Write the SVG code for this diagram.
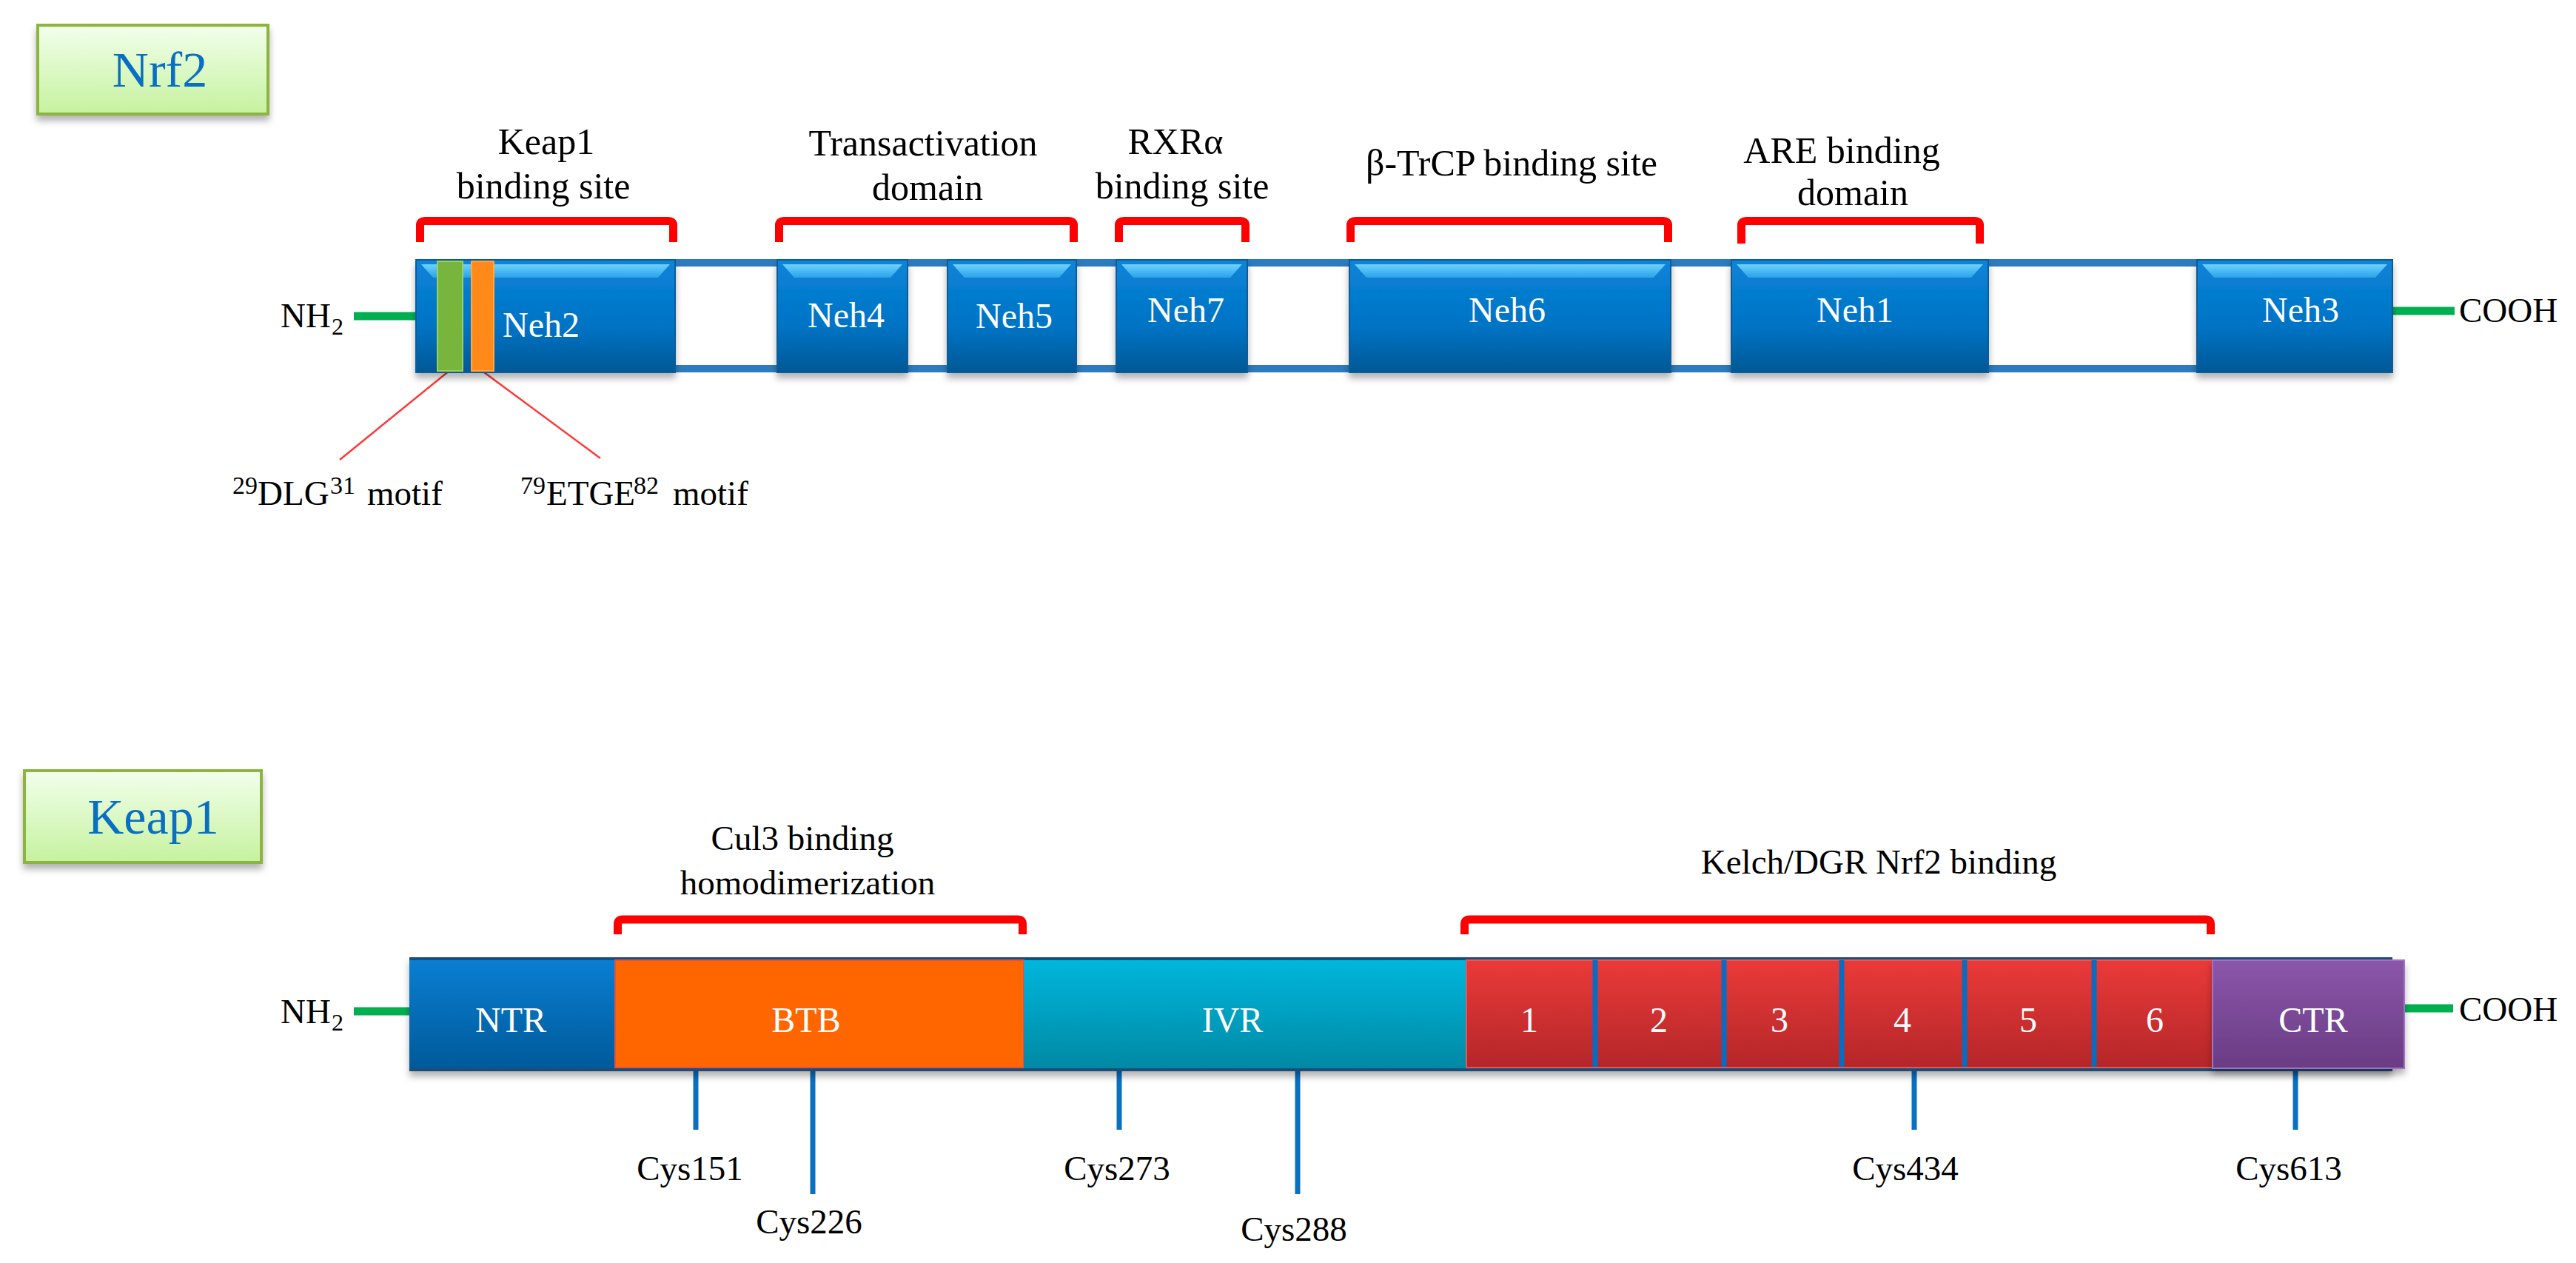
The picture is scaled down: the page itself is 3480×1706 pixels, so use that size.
<svg xmlns="http://www.w3.org/2000/svg" width="3480" height="1706" viewBox="0 0 3480 1706">
<defs>
<style>
text{font-family:"Liberation Serif","Times New Roman",serif;}
.hdr{font-size:68px;fill:#0A6FC2;text-anchor:middle;}
.lbl{font-size:50px;fill:#000;text-anchor:middle;}
.klbl{font-size:47px;fill:#000;text-anchor:middle;}
.dom{font-size:48px;fill:#fff;}
.domc{font-size:48px;fill:#fff;text-anchor:middle;}
.term{font-size:47px;fill:#000;}
.sub{font-size:32px;fill:#000;}
.cys{font-size:47px;fill:#000;text-anchor:middle;}
.sup{font-size:34px;fill:#000;}
.bracket{fill:none;stroke:#FF0000;stroke-width:11;stroke-linejoin:round;}
.term-line{stroke:#00B050;stroke-width:11;}
.cysline{stroke:#0A70C0;stroke-width:7;}
.motif{stroke:#FF3838;stroke-width:2.5;}
.neh{fill:url(#gNeh);stroke:#0D5B9A;stroke-width:2;}
.bevel{fill:url(#gBevel);}
.divider{stroke:#0A6CC0;stroke-width:7;}
</style>
<linearGradient id="gHdr" x1="0" y1="0" x2="0" y2="1"><stop offset="0" stop-color="#F2FFEC"/><stop offset="1" stop-color="#C6F29E"/></linearGradient>
<linearGradient id="gNeh" x1="0" y1="0" x2="0" y2="1"><stop offset="0" stop-color="#0B84D8"/><stop offset="0.6" stop-color="#0073C4"/><stop offset="1" stop-color="#005895"/></linearGradient>
<linearGradient id="gBevel" x1="0" y1="0" x2="0" y2="1"><stop offset="0" stop-color="#6ED2FA"/><stop offset="1" stop-color="#2AA2EA"/></linearGradient>
<linearGradient id="gNTR" x1="0" y1="0" x2="0" y2="1"><stop offset="0" stop-color="#0A7ED2"/><stop offset="1" stop-color="#005A9A"/></linearGradient>
<linearGradient id="gIVR" x1="0" y1="0" x2="0" y2="1"><stop offset="0" stop-color="#00B6DC"/><stop offset="1" stop-color="#0089A4"/></linearGradient>
<linearGradient id="gKelch" x1="0" y1="0" x2="0" y2="1"><stop offset="0" stop-color="#EA3A39"/><stop offset="1" stop-color="#B42629"/></linearGradient>
<linearGradient id="gCTR" x1="0" y1="0" x2="0" y2="1"><stop offset="0" stop-color="#8C56AA"/><stop offset="1" stop-color="#693C84"/></linearGradient>
<filter id="shadow" x="-10%" y="-20%" width="120%" height="150%"><feDropShadow dx="0" dy="7" stdDeviation="5" flood-color="#000" flood-opacity="0.3"/></filter>
</defs>
<rect width="3480" height="1706" fill="#fff"/>

<!-- Headers -->
<g id="hdr-nrf2">
<rect x="51" y="34" width="311" height="120" fill="url(#gHdr)" stroke="#8DB43F" stroke-width="4" filter="url(#shadow)"/>
<text class="hdr" x="216" y="117">Nrf2</text>
</g>
<g id="hdr-keap1">
<rect x="33" y="1041" width="320" height="124" fill="url(#gHdr)" stroke="#8DB43F" stroke-width="4" filter="url(#shadow)"/>
<text class="hdr" x="207" y="1126">Keap1</text>
</g>

<!-- Nrf2 protein -->
<g id="nrf2-backbone">
<rect x="567" y="355" width="2661" height="143" fill="none" stroke="#2C7BBF" stroke-width="10"/>
</g>
<g id="connectors">
<line class="term-line" x1="478" y1="427" x2="563" y2="427"/>
<line class="term-line" x1="3231" y1="420" x2="3316" y2="420"/>
<line class="term-line" x1="478" y1="1366" x2="554" y2="1366"/>
<line class="term-line" x1="3248" y1="1362" x2="3314" y2="1362"/>
<line class="motif" x1="608" y1="500" x2="459" y2="621"/>
<line class="motif" x1="650" y1="500" x2="811" y2="619"/>
<line class="cysline" x1="940" y1="1445" x2="940" y2="1526"/>
<line class="cysline" x1="1098" y1="1445" x2="1098" y2="1613"/>
<line class="cysline" x1="1512" y1="1445" x2="1512" y2="1526"/>
<line class="cysline" x1="1753" y1="1445" x2="1753" y2="1613"/>
<line class="cysline" x1="2586" y1="1445" x2="2586" y2="1526"/>
<line class="cysline" x1="3101" y1="1445" x2="3101" y2="1526"/>
</g>

<g id="neh2">
<rect class="neh" x="562" y="351" width="350" height="152" filter="url(#shadow)"/>
<polygon class="bevel" points="569,357 905,357 889,375 585,375"/>
<rect x="591" y="353" width="34" height="148" fill="#78B53C" stroke="#9FD05A" stroke-width="2"/>
<rect x="637" y="353" width="30" height="148" fill="#FF8A1A" stroke="#FFA548" stroke-width="2"/>
<text class="dom" x="679" y="455">Neh2</text>
</g>
<g id="neh4">
<rect class="neh" x="1050" y="351" width="176" height="152" filter="url(#shadow)"/>
<polygon class="bevel" points="1057,357 1219,357 1203,375 1073,375"/>
<text class="dom" x="1091" y="442">Neh4</text>
</g>
<g id="neh5">
<rect class="neh" x="1280" y="351" width="174" height="152" filter="url(#shadow)"/>
<polygon class="bevel" points="1287,357 1447,357 1431,375 1303,375"/>
<text class="dom" x="1318" y="443">Neh5</text>
</g>
<g id="neh7">
<rect class="neh" x="1508" y="351" width="177" height="152" filter="url(#shadow)"/>
<polygon class="bevel" points="1515,357 1678,357 1662,375 1531,375"/>
<text class="dom" x="1550" y="435">Neh7</text>
</g>
<g id="neh6">
<rect class="neh" x="1823" y="351" width="434" height="152" filter="url(#shadow)"/>
<polygon class="bevel" points="1830,357 2250,357 2234,375 1846,375"/>
<text class="dom" x="1984" y="435">Neh6</text>
</g>
<g id="neh1">
<rect class="neh" x="2339" y="351" width="347" height="152" filter="url(#shadow)"/>
<polygon class="bevel" points="2346,357 2679,357 2663,375 2362,375"/>
<text class="dom" x="2454" y="435">Neh1</text>
</g>
<g id="neh3">
<rect class="neh" x="2968" y="351" width="264" height="152" filter="url(#shadow)"/>
<polygon class="bevel" points="2975,357 3225,357 3209,375 2991,375"/>
<text class="dom" x="3056" y="435">Neh3</text>
</g>

<g id="nrf2-terminals">
<text class="term" x="379" y="442">NH<tspan class="sub" x="448" y="452">2</tspan></text>
<text class="term" x="3322" y="435">COOH</text>
</g>

<g id="nrf2-brackets">
<path class="bracket" d="M567.5,327 V304 Q567.5,298.5 574,298.5 H903 Q909.5,298.5 909.5,304 V327"/>
<path class="bracket" d="M1052.5,327 V304 Q1052.5,298.5 1059,298.5 H1444 Q1450.5,298.5 1450.5,304 V327"/>
<path class="bracket" d="M1511.5,327 V304 Q1511.5,298.5 1518,298.5 H1676 Q1682.5,298.5 1682.5,304 V327"/>
<path class="bracket" d="M1824.5,327 V304 Q1824.5,298.5 1831,298.5 H2247 Q2253.5,298.5 2253.5,304 V327"/>
<path class="bracket" d="M2352.5,329 V304 Q2352.5,298.5 2359,298.5 H2668 Q2674.5,298.5 2674.5,304 V329"/>
</g>
<g id="nrf2-labels">
<text class="lbl" x="738" y="208">Keap1</text>
<text class="lbl" x="734" y="268">binding site</text>
<text class="lbl" x="1247" y="210">Transactivation</text>
<text class="lbl" x="1253" y="270">domain</text>
<text class="lbl" x="1588" y="208">RXRα</text>
<text class="lbl" x="1597" y="268">binding site</text>
<text class="lbl" x="2042" y="237">β-TrCP binding site</text>
<text class="lbl" x="2488" y="220">ARE binding</text>
<text class="lbl" x="2503" y="277">domain</text>
</g>
<g id="motif-labels">
<text class="term" x="348" y="682"><tspan class="sup" x="314" y="667">29</tspan><tspan x="348" y="682">DLG</tspan><tspan class="sup" x="446" y="667">31</tspan><tspan x="496" y="682">motif</tspan></text>
<text class="term" x="738" y="682"><tspan class="sup" x="703" y="667">79</tspan><tspan x="738" y="682">ETGE</tspan><tspan class="sup" x="856" y="667">82</tspan><tspan x="909" y="682">motif</tspan></text>
</g>

<!-- Keap1 protein -->
<g id="keap1-bar" filter="url(#shadow)">
<rect x="553" y="1293" width="2679" height="154" fill="#1F4E79"/>
</g>
<g id="ntr">
<rect x="553" y="1297" width="277" height="146" fill="url(#gNTR)"/>
<text class="domc" x="690" y="1394">NTR</text>
</g>
<g id="btb">
<rect x="831" y="1297" width="552" height="145" fill="#FF6600" stroke="#E2504A" stroke-width="2"/>
<text class="domc" x="1089" y="1394">BTB</text>
</g>
<g id="ivr">
<rect x="1383" y="1297" width="597" height="146" fill="url(#gIVR)"/>
<text class="domc" x="1665" y="1394">IVR</text>
</g>
<g id="kelch">
<rect x="1981" y="1297" width="1008" height="145" fill="url(#gKelch)" stroke="#E05A5A" stroke-width="2"/>
<line class="divider" x1="2155" y1="1297" x2="2155" y2="1441"/>
<line class="divider" x1="2329" y1="1297" x2="2329" y2="1441"/>
<line class="divider" x1="2488" y1="1297" x2="2488" y2="1441"/>
<line class="divider" x1="2654" y1="1297" x2="2654" y2="1441"/>
<line class="divider" x1="2829" y1="1297" x2="2829" y2="1441"/>
<text class="domc" x="2066" y="1394">1</text>
<text class="domc" x="2241" y="1394">2</text>
<text class="domc" x="2404" y="1394">3</text>
<text class="domc" x="2570" y="1394">4</text>
<text class="domc" x="2740" y="1394">5</text>
<text class="domc" x="2911" y="1394">6</text>
</g>
<g id="ctr">
<rect x="2989" y="1297" width="259" height="146" fill="url(#gCTR)" stroke="#A173C2" stroke-width="2" filter="url(#shadow)"/>
<text class="domc" x="3125" y="1394">CTR</text>
</g>

<g id="keap1-terminals">
<text class="term" x="379" y="1382">NH<tspan class="sub" x="448" y="1392">2</tspan></text>
<text class="term" x="3322" y="1379">COOH</text>
</g>
<g id="keap1-brackets">
<path class="bracket" d="M834.5,1262 V1248 Q834.5,1242 841,1242 H1375 Q1381.5,1242 1381.5,1248 V1262"/>
<path class="bracket" d="M1978.5,1262 V1248 Q1978.5,1242 1985,1242 H2980 Q2986.5,1242 2986.5,1248 V1262"/>
</g>
<g id="keap1-labels">
<text class="klbl" x="1084" y="1148">Cul3 binding</text>
<text class="klbl" x="1091" y="1208">homodimerization</text>
<text class="klbl" x="2538" y="1180">Kelch/DGR Nrf2 binding</text>
</g>
<g id="cys-labels">
<text class="cys" x="932" y="1594">Cys151</text>
<text class="cys" x="1093" y="1666">Cys226</text>
<text class="cys" x="1509" y="1594">Cys273</text>
<text class="cys" x="1748" y="1676">Cys288</text>
<text class="cys" x="2574" y="1594">Cys434</text>
<text class="cys" x="3092" y="1594">Cys613</text>
</g>
</svg>
